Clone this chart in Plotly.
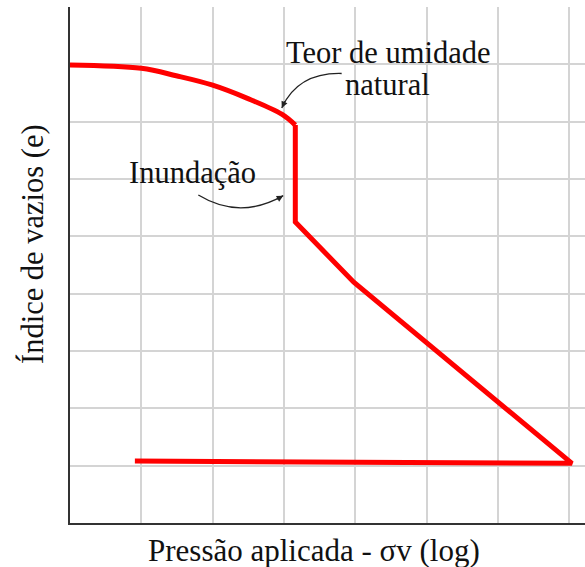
import plotly.graph_objects as go

# Data in grid units (x: log of applied pressure, y: void ratio)
# natural-moisture loading branch (smooth curve)
natural_x = [0.0, 1.0, 1.49, 1.99, 2.48, 2.97, 3.16]
natural_y = [7.99, 7.93, 7.80, 7.64, 7.41, 7.13, 6.94]
# inundation collapse, saturated loading and unloading
flooded_x = [3.16, 3.16, 3.98, 7.04, 0.91]
flooded_y = [6.94, 5.25, 4.20, 1.04, 1.08]

# annotation anchors (data units)
teor_arrow = dict(x0=3.81, y0=7.84, cx=3.20, cy=7.86, x1=2.97, y1=7.24)
inund_arrow = dict(x0=1.80, y0=5.72, cx=2.38, cy=5.28, x1=2.99, y1=5.71)

W, H = 585, 567
L, R, T, B = 70, 0, 7, 44
XMAX, YMAX = 7.223, 9.0
FONT = "Liberation Serif"
RED = "#ff0000"

fig = go.Figure()
fig.add_trace(go.Scatter(x=natural_x, y=natural_y, mode="lines",
                         line=dict(color=RED, width=5, shape="spline", smoothing=1.0),
                         hoverinfo="skip", showlegend=False))
fig.add_trace(go.Scatter(x=flooded_x, y=flooded_y, mode="lines",
                         line=dict(color=RED, width=5), hoverinfo="skip", showlegend=False))

shapes = []
for a in (teor_arrow, inund_arrow):
    shapes.append(dict(type="path", xref="x", yref="y",
                       path=f"M {a['x0']},{a['y0']} Q {a['cx']},{a['cy']} {a['x1']},{a['y1']}",
                       line=dict(color="#222222", width=1.3)))

annotations = []
# arrowheads
pxu = (W - L - R) / XMAX
pyu = (H - T - B) / YMAX
for a in (teor_arrow, inund_arrow):
    dx = (a['x1'] - a['cx']) * pxu
    dy = -(a['y1'] - a['cy']) * pyu
    n = (dx ** 2 + dy ** 2) ** 0.5
    annotations.append(dict(x=a['x1'], y=a['y1'], xref="x", yref="y", text="",
                            showarrow=True, ax=-dx / n * 9, ay=-dy / n * 9,
                            arrowhead=2, arrowsize=1, arrowwidth=1.3, arrowcolor="#222222"))

def px2x(px):
    return (px - L) / (W - L - R)

def py2y(py):
    return (H - B - py) / (H - T - B)

txt = dict(family=FONT, size=30.5, color="#111111")
txt_x = dict(family=FONT, size=31, color="#111111")
annotations += [
    dict(text="Teor de umidade", x=px2x(388.5), y=py2y(53), xref="paper", yref="paper",
         showarrow=False, font=txt, xanchor="center", yanchor="middle"),
    dict(text="natural", x=px2x(387.5), y=py2y(85), xref="paper", yref="paper",
         showarrow=False, font=txt, xanchor="center", yanchor="middle"),
    dict(text="Inundação", x=px2x(192.5), y=py2y(173), xref="paper", yref="paper",
         showarrow=False, font=txt, xanchor="center", yanchor="middle"),
    dict(text="Índice de vazios (e)", x=px2x(32), y=py2y(244), xref="paper", yref="paper",
         showarrow=False, font=txt, textangle=-90, xanchor="center", yanchor="middle"),
    dict(text="Pressão aplicada - σv (log)", x=px2x(314), y=py2y(550), xref="paper", yref="paper",
         showarrow=False, font=txt_x, xanchor="center", yanchor="middle"),
]

axis_common = dict(showgrid=True, gridcolor="#d4d4d4", gridwidth=1.5, dtick=1, tick0=0,
                   showticklabels=False, ticks="", zeroline=False,
                   showline=True, linecolor="#333333", linewidth=2, mirror=False)

fig.update_layout(
    width=W, height=H, margin=dict(l=L, r=R, t=T, b=B, pad=0),
    paper_bgcolor="white", plot_bgcolor="white",
    xaxis=dict(range=[0, XMAX], **axis_common),
    yaxis=dict(range=[0, YMAX], **axis_common),
    shapes=shapes, annotations=annotations,
)

fig.write_html("out.html", config={"displayModeBar": False},
               post_script="document.body.style.margin='0';document.body.style.overflow='hidden';")
